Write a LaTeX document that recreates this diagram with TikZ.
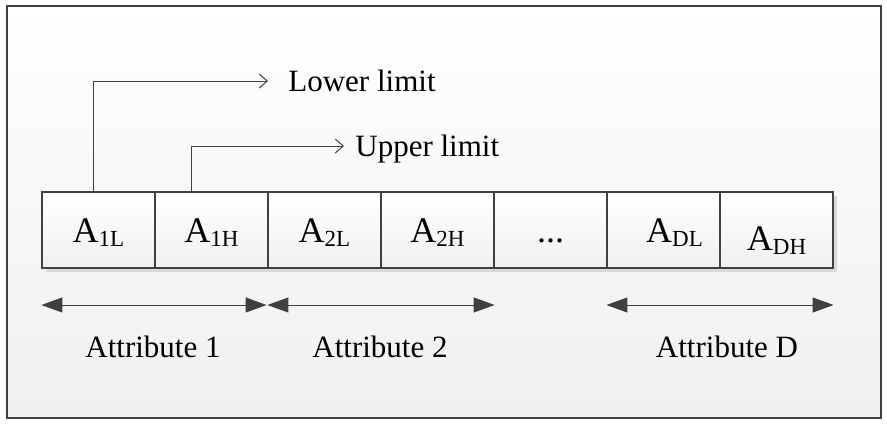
\documentclass[tikz,border=0pt]{standalone}
\usepackage{fontspec}
\setmainfont{Liberation Serif}
\usetikzlibrary{arrows.meta,shadows}
\definecolor{linegray}{HTML}{404040}
\newcommand{\aidx}[1]{A\raisebox{-2.3pt}{\fontsize{11.5}{12}\selectfont #1}}
\begin{document}
\begin{tikzpicture}[x=0.5pt,y=0.5pt]

    \tikzset{cellstyle/.style={draw=linegray,line width=0.6pt,top color=white,bottom color=black!6,
        minimum width=56.5pt,minimum height=38pt,inner sep=0pt,text height=12pt,text depth=0pt,
        font=\fontsize{18}{20}\selectfont,
        drop shadow={shadow xshift=2pt,shadow yshift=-2pt,fill=black!15,opacity=1}}}
    \tikzset{lbl/.style={font=\fontsize{15.5}{18}\selectfont,inner sep=0pt,text depth=0pt}}
    \tikzset{limarrow/.style={draw=linegray,line width=0.5pt,-{Straight Barb[length=4pt,width=7pt]}}}
    \tikzset{spanarrow/.style={draw=linegray,line width=0.5pt,
        {Triangle[length=10.5pt,width=7.5pt]}-{Triangle[length=10.5pt,width=7.5pt]}}}

    % fond
    \fill[white] (0,0) rectangle (887,425);
    \shade[top color=white,bottom color=black!6] (7,7) rectangle (881,419);
    \draw[linegray,line width=0.75pt] (7,7) rectangle (881,419);

    \node[cellstyle] (c1) at ( 98.5,195) {\aidx{1L}};
    \node[cellstyle] (c2) at (211.5,195) {\aidx{1H}};
    \node[cellstyle] (c3) at (324.5,195) {\aidx{2L}};
    \node[cellstyle] (c4) at (437.5,195) {\aidx{2H}};
    \node[cellstyle] (c5) at (550.5,195) {...};
    \node[cellstyle] (c6) at (663.5,195) {\hspace*{11pt}\aidx{DL}};
    \node[cellstyle] (c7) at (776.5,195) {\raisebox{-4pt}{\aidx{DH}}};

    \node[lbl,anchor=west] (lowlbl) at (288,344) {Lower limit};
    \node[lbl,anchor=west] (uplbl) at (355,279) {Upper limit};

    \coordinate (lo) at (93,233);
    \coordinate (hi) at (191,233);
    \draw[limarrow,shorten >=10pt] (lo) |- (lowlbl.west);
    \draw[limarrow,shorten >=5.5pt] (hi) |- (uplbl.west);

    % fleches des attributs
    \coordinate (arrowrow) at (0,120);
    \draw[spanarrow] (c1.west |- arrowrow) -- ([xshift=-1pt]c2.east |- arrowrow);
    \draw[spanarrow] (c3.west |- arrowrow) -- (c4.east |- arrowrow);
    \draw[spanarrow] (c6.west |- arrowrow) -- (c7.east |- arrowrow);

    \node[lbl,anchor=base] (attr1) at (153,68) {Attribute 1};
    \node[lbl,anchor=base] (attr2) at (380,68) {Attribute 2};
    \node[lbl,anchor=base] (attrD) at (727,68) {Attribute D};

\end{tikzpicture}
\end{document}
